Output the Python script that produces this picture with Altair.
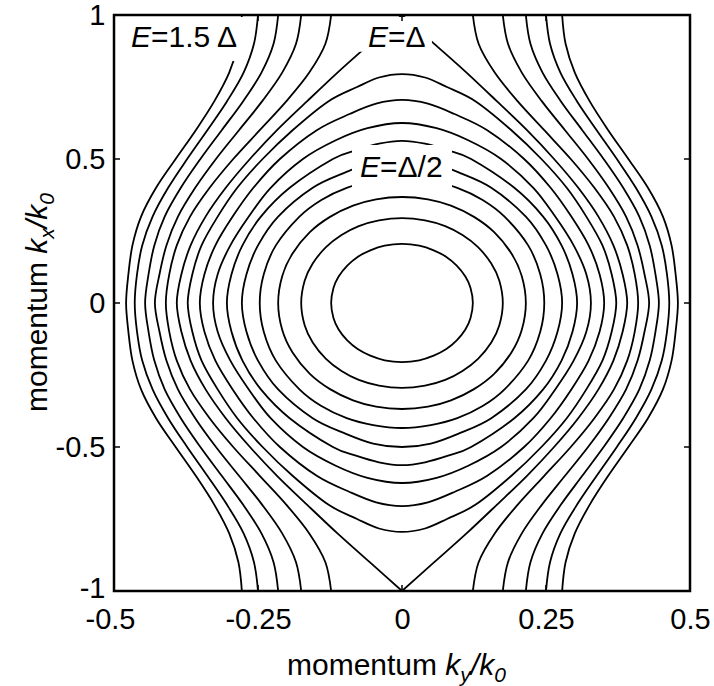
import altair as alt
import pandas as pd

# Energy contours E(ky, kx) in units of the gap Delta, levels 0.1 ... 1.5.
# Each contour is traced in the quadrant ky >= 0, kx >= 0 (top end first);
# the full curve follows from the mirror symmetry ky -> -ky, kx -> -kx.

# closed contours E = 0.1 ... 0.9
E01_KY = [0.000, 0.030, 0.055, 0.077, 0.095, 0.110, 0.119, 0.123]
E01_KX = [0.205, 0.199, 0.183, 0.160, 0.130, 0.092, 0.052, 0.000]
E02_KY = [0.000, 0.040, 0.075, 0.105, 0.132, 0.155, 0.169, 0.175]
E02_KX = [0.295, 0.287, 0.267, 0.236, 0.194, 0.137, 0.077, 0.000]
E03_KY = [0.000, 0.045, 0.085, 0.125, 0.160, 0.190, 0.208, 0.215]
E03_KX = [0.368, 0.360, 0.338, 0.299, 0.246, 0.172, 0.093, 0.000]
E04_KY = [0.000, 0.050, 0.096, 0.140, 0.178, 0.219, 0.240, 0.247]
E04_KX = [0.434, 0.424, 0.400, 0.358, 0.300, 0.200, 0.100, 0.000]
E05_KY = [0.000, 0.050, 0.100, 0.155, 0.215, 0.250, 0.270, 0.278]
E05_KX = [0.500, 0.488, 0.452, 0.400, 0.300, 0.200, 0.100, 0.000]
E06_KY = [0.000, 0.040, 0.080, 0.120, 0.195, 0.245, 0.277, 0.296, 0.304]
E06_KX = [0.563, 0.553, 0.530, 0.500, 0.400, 0.300, 0.200, 0.100, 0.000]
E07_KY = [0.000, 0.060, 0.115, 0.172, 0.228, 0.266, 0.298, 0.320, 0.328]
E07_KX = [0.625, 0.607, 0.565, 0.500, 0.400, 0.300, 0.200, 0.100, 0.000]
E08_KY = [0.000, 0.045, 0.090, 0.148, 0.212, 0.258, 0.294, 0.324, 0.343, 0.351]
E08_KX = [0.705, 0.692, 0.657, 0.600, 0.500, 0.400, 0.300, 0.200, 0.100, 0.000]
E09_KY = [0.000, 0.040, 0.078, 0.128, 0.190, 0.242, 0.286, 0.320, 0.348, 0.364, 0.372]
E09_KX = [0.795, 0.783, 0.750, 0.700, 0.600, 0.500, 0.400, 0.300, 0.200, 0.100, 0.000]

# separatrix E = 1.0 and open contours E = 1.1 ... 1.5, sampled on these rows
ROW_KX = [1.0, 0.9, 0.8, 0.7, 0.6, 0.5, 0.4, 0.3, 0.2, 0.1, 0.0]
E10_KY = [0.000, 0.056, 0.112, 0.165, 0.217, 0.264, 0.306, 0.341, 0.367, 0.383, 0.391]
E11_KY = [0.123, 0.133, 0.161, 0.201, 0.247, 0.293, 0.334, 0.368, 0.391, 0.404, 0.410]
E12_KY = [0.175, 0.184, 0.208, 0.243, 0.283, 0.323, 0.359, 0.389, 0.409, 0.421, 0.429]
E13_KY = [0.215, 0.223, 0.244, 0.276, 0.313, 0.350, 0.384, 0.412, 0.430, 0.440, 0.446]
E14_KY = [0.250, 0.257, 0.275, 0.304, 0.338, 0.373, 0.406, 0.433, 0.451, 0.460, 0.464]
E15_KY = [0.278, 0.284, 0.300, 0.326, 0.358, 0.393, 0.427, 0.453, 0.468, 0.475, 0.479]

# inline contour labels: anchor of the italic "E", the rest of the text,
# and the white patch that clears the contour lines behind each label
LABEL_KY = [-0.4705, -0.059, -0.0729]
LABEL_KX = [0.889, 0.889, 0.4375]
LABEL_REST = ["=1.5 Δ", "=Δ", "=Δ/2"]
BOX_KY0 = [-0.481, -0.076, -0.0868]
BOX_KY1 = [-0.2726, 0.052, 0.0868]
BOX_KX0 = [0.840, 0.872, 0.378]
BOX_KX1 = [0.993, 0.993, 0.549]

X_TICKS = [-0.5, -0.25, 0, 0.25, 0.5]
Y_TICKS = [-1, -0.5, 0, 0.5, 1]

W, H = 576, 576
FONT = "Liberation Sans"
LABEL_SIZE = 30
TICK_SIZE = 29
TITLE_SIZE = 30
SUB_SIZE = 21
LINE_W = 1.8


def closed_loop(ky, kx):
    q1 = list(zip(ky, kx))
    q4 = [(a, -b) for a, b in reversed(q1)][1:]
    q3 = [(-a, -b) for a, b in q1][1:]
    q2 = [(-a, b) for a, b in reversed(q1)][1:-1]
    return q1 + q4 + q3 + q2


def branches(ky, kx):
    q1 = list(zip(ky, kx))
    right = q1 + [(a, -b) for a, b in reversed(q1)][1:]
    left = [(-a, b) for a, b in right]
    return [right, left]


def frame(curves):
    rows = []
    for cid, pts in enumerate(curves):
        for seq, (a, b) in enumerate(pts):
            rows.append({"ky": a, "kx": b, "curve": cid, "seq": seq})
    return pd.DataFrame(rows)


loops = frame([closed_loop(ky, kx) for ky, kx in [
    (E01_KY, E01_KX), (E02_KY, E02_KX), (E03_KY, E03_KX),
    (E04_KY, E04_KX), (E05_KY, E05_KX), (E06_KY, E06_KX),
    (E07_KY, E07_KX), (E08_KY, E08_KX), (E09_KY, E09_KX)]])
opens = frame([b for ky in [E10_KY, E11_KY, E12_KY, E13_KY, E14_KY, E15_KY]
               for b in branches(ky, ROW_KX)])

xscale = alt.Scale(domain=[-0.5, 0.5], nice=False, zero=False)
yscale = alt.Scale(domain=[-1, 1], nice=False, zero=False)
label_expr = "datum.value == 0 ? '0' : (datum.value < 0 ? '-' : '') + toString(abs(datum.value))"
axis_style = dict(labelExpr=label_expr, ticks=False, domain=False, grid=False,
                  labelFont=FONT, labelFontSize=TICK_SIZE, labelColor="black",
                  labelFlush=False)

closed_lines = alt.Chart(loops).mark_line(
    color="black", strokeWidth=LINE_W, interpolate="cardinal-closed", clip=True
).encode(
    x=alt.X("ky:Q", scale=xscale, title=None,
            axis=alt.Axis(values=X_TICKS, labelPadding=14,
                          labelOffset={"condition": {"test": "datum.value == -0.5", "value": -4},
                                       "value": 0},
                          **axis_style)),
    y=alt.Y("kx:Q", scale=yscale, title=None,
            axis=alt.Axis(values=Y_TICKS, labelPadding=9,
                          labelOffset={"condition": {"test": "datum.value == -1", "value": -3},
                                       "value": 0},
                          **axis_style)),
    detail="curve:N",
    order="seq:Q",
)
open_lines = alt.Chart(opens).mark_line(
    color="black", strokeWidth=LINE_W, interpolate="catmull-rom", clip=True
).encode(
    x=alt.X("ky:Q", scale=xscale), y=alt.Y("kx:Q", scale=yscale),
    detail="curve:N", order="seq:Q",
)

labels = pd.DataFrame({"ky": LABEL_KY, "kx": LABEL_KX, "rest": LABEL_REST,
                       "x0": BOX_KY0, "x1": BOX_KY1, "y0": BOX_KX0, "y1": BOX_KX1})

patches = alt.Chart(labels).mark_rect(fill="white").encode(
    x=alt.X("x0:Q", scale=xscale), x2="x1", y=alt.Y("y0:Q", scale=yscale), y2="y1"
)
label_e = alt.Chart(labels).mark_text(
    text="E", font=FONT, fontSize=LABEL_SIZE, fontStyle="italic", align="left",
    baseline="alphabetic", color="black"
).encode(x=alt.X("ky:Q", scale=xscale), y=alt.Y("kx:Q", scale=yscale))
label_rest = alt.Chart(labels).mark_text(
    font=FONT, fontSize=LABEL_SIZE, align="left", baseline="alphabetic", color="black",
    dx=0.667 * LABEL_SIZE
).encode(x=alt.X("ky:Q", scale=xscale), y=alt.Y("kx:Q", scale=yscale), text="rest:N")

# inward ticks on all four sides of the frame
xt = pd.DataFrame({"ky": X_TICKS[1:-1]})
yt = pd.DataFrame({"kx": Y_TICKS[1:-1]})
tick_style = dict(color="black", strokeWidth=1.5)
ticks = alt.layer(
    alt.Chart(xt).mark_rule(**tick_style).encode(
        x=alt.X("ky:Q", scale=xscale), y=alt.value(H), y2=alt.value(H - 6)),
    alt.Chart(xt).mark_rule(**tick_style).encode(
        x=alt.X("ky:Q", scale=xscale), y=alt.value(0), y2=alt.value(6)),
    alt.Chart(yt).mark_rule(**tick_style).encode(
        y=alt.Y("kx:Q", scale=yscale), x=alt.value(0), x2=alt.value(6)),
    alt.Chart(yt).mark_rule(**tick_style).encode(
        y=alt.Y("kx:Q", scale=yscale), x=alt.value(W), x2=alt.value(W - 6)),
)

# axis titles with italic symbols and subscripts
ADV = {"m": .833, "o": .556, "e": .556, "n": .556, "t": .278, "u": .556, " ": .278,
       "k": .5, "x": .5, "y": .5, "/": .278, "0": .556}


def rich(pieces, x0, y0, vertical):
    out, pos = [], 0.0
    for text, italic, size, shift in pieces:
        if vertical:
            px, py = x0 + shift, y0 - pos
        else:
            px, py = x0 + pos, y0 + shift
        out.append({"t": text, "px": px, "py": py, "size": size,
                    "italic": italic, "angle": 270 if vertical else 0})
        pos += sum(ADV[c] for c in text) * size
    return out


def title_pieces(sub):
    return [("momentum ", False, TITLE_SIZE, 0), ("k", True, TITLE_SIZE, 0),
            (sub, True, SUB_SIZE, 7), ("/", True, TITLE_SIZE, 0),
            ("k", True, TITLE_SIZE, 0), ("0", True, SUB_SIZE, 7)]


trows = rich(title_pieces("y"), 173, 660, False) + rich(title_pieces("x"), -67, 397, True)
tdf = pd.DataFrame(trows)


def title_layer(italic):
    return alt.Chart(tdf).transform_filter(
        alt.datum.italic == italic
    ).mark_text(font=FONT, align="left", baseline="alphabetic", color="black",
                fontStyle="italic" if italic else "normal").encode(
        x=alt.X("px:Q", scale=None), y=alt.Y("py:Q", scale=None),
        text="t:N", size=alt.Size("size:Q", scale=None, legend=None),
        angle=alt.Angle("angle:Q", scale=None),
    )


chart = alt.layer(
    closed_lines, open_lines, patches, label_e, label_rest, ticks,
    title_layer(False), title_layer(True)
).properties(
    width=W, height=H,
    padding={"left": 114, "top": 15, "right": 24, "bottom": 95},
    autosize=alt.AutoSizeParams(type="none"),
    background="white",
).configure_view(stroke="black", strokeWidth=2.5)

chart.save("out.html", embed_options={"renderer": "svg", "actions": False})
